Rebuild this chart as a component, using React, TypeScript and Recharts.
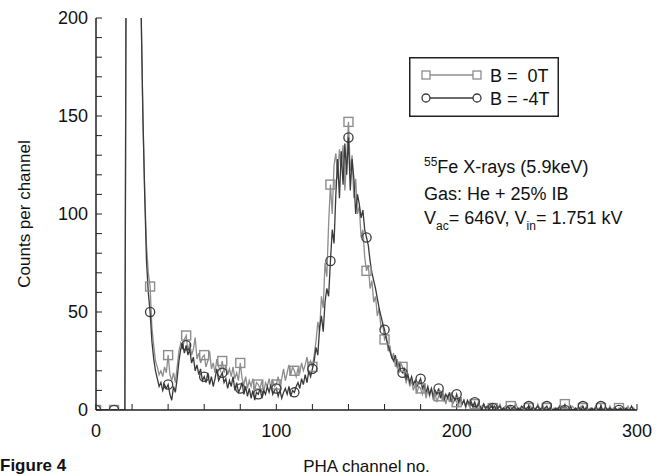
import React from "react";
import { LineChart, Line, XAxis, YAxis, Legend } from "recharts";

// PHA spectrum, counts per channel (channels 0..299)
const b0T = [
  0, 0, 0, 0, 0, 0, 0, 0, 0, 0,
  0, 0, 0, 0, 0, 0, 0, 330, 460, 520,
  500, 470, 420, 360, 290, 205, 150, 112, 84, 70,
  63, 42, 33, 25, 22, 18, 20, 17, 22, 19,
  28, 18, 15, 19, 14, 22, 30, 34, 31, 36,
  38, 30, 34, 28, 31, 37, 26, 29, 24, 27,
  28, 22, 25, 30, 21, 24, 19, 26, 22, 20,
  25, 19, 23, 18, 21, 17, 22, 16, 19, 15,
  24, 16, 13, 17, 11, 15, 12, 16, 10, 14,
  13, 11, 15, 9, 14, 12, 16, 11, 15, 12,
  13, 17, 12, 16, 21, 15, 19, 23, 18, 22,
  20, 17, 21, 19, 24, 20, 23, 27, 22, 25,
  22, 28, 35, 45, 40, 58, 52, 75, 68, 95,
  115, 100, 125, 131, 118, 133, 124, 135, 112, 128,
  147, 122, 130, 108, 118, 100, 104, 88, 92, 78,
  71, 74, 62, 66, 55, 58, 48, 52, 42, 44,
  36, 38, 30, 33, 26, 29, 22, 26, 19, 24,
  22, 18, 14, 17, 12, 15, 10, 13, 9, 12,
  11, 8, 12, 6, 10, 7, 11, 5, 9, 4,
  7, 10, 5, 8, 3, 7, 4, 9, 3, 6,
  4, 2, 6, 3, 5, 1, 4, 2, 5, 1,
  3, 1, 4, 0, 2, 3, 0, 2, 1, 3,
  1, 0, 2, 1, 3, 0, 1, 2, 0, 1,
  2, 0, 1, 3, 0, 1, 0, 2, 1, 0,
  1, 2, 0, 1, 0, 3, 1, 0, 2, 0,
  1, 0, 2, 0, 1, 0, 1, 0, 2, 1,
  3, 0, 1, 0, 2, 1, 0, 1, 0, 2,
  1, 0, 2, 0, 1, 0, 0, 2, 0, 1,
  1, 0, 1, 0, 0, 2, 0, 1, 0, 0,
  1, 0, 0, 1, 0, 2, 0, 0, 1, 0,
];

const bMinus4T = [
  0, 0, 0, 0, 0, 0, 0, 0, 0, 0,
  0, 0, 0, 0, 0, 0, 0, 330, 460, 520,
  500, 470, 420, 360, 290, 205, 150, 110, 76, 60,
  50, 35, 26, 20, 16, 12, 14, 10, 13, 11,
  13, 8, 5, 12, 9, 16, 25, 31, 34, 29,
  33, 28, 31, 24, 27, 20, 23, 18, 21, 15,
  17, 14, 19, 13, 17, 12, 16, 21, 15, 17,
  19, 14, 16, 11, 15, 12, 17, 10, 14, 9,
  11, 14, 8, 12, 7, 11, 6, 10, 5, 9,
  8, 11, 6, 10, 8, 12, 9, 13, 8, 10,
  11, 7, 10, 6, 9, 11, 8, 12, 7, 10,
  9, 12, 14, 11, 16, 13, 18, 14, 20, 17,
  21, 25, 32, 28, 42, 48, 40, 55, 62, 58,
  76, 92, 85, 110, 128, 108, 132, 115, 136, 120,
  139, 112, 128, 118, 100, 110, 105, 98, 102, 92,
  88, 84, 76, 70, 66, 62, 57, 52, 48, 44,
  41, 36, 33, 30, 27, 25, 28, 22, 24, 20,
  19, 21, 16, 18, 14, 17, 13, 15, 12, 14,
  16, 11, 13, 9, 12, 8, 11, 7, 10, 8,
  11, 6, 9, 5, 8, 6, 9, 4, 7, 5,
  8, 4, 6, 3, 5, 2, 5, 3, 4, 2,
  4, 1, 3, 2, 0, 3, 1, 2, 0, 2,
  1, 2, 0, 1, 2, 0, 1, 0, 2, 1,
  0, 1, 2, 0, 1, 0, 2, 1, 0, 1,
  2, 0, 1, 0, 1, 2, 0, 1, 0, 1,
  2, 0, 1, 0, 0, 1, 0, 2, 0, 1,
  0, 1, 0, 2, 0, 0, 1, 0, 1, 0,
  2, 0, 1, 0, 0, 1, 0, 1, 0, 0,
  2, 0, 0, 1, 0, 1, 0, 0, 1, 0,
  0, 1, 0, 0, 1, 0, 0, 2, 0, 0,
];

const xTicks = [0, 20, 40, 60, 80, 100, 120, 140, 160, 180, 200, 220, 240, 260, 280, 300];
const yTicks = [0, 10, 20, 30, 40, 50, 60, 70, 80, 90, 100, 110, 120, 130, 140, 150, 160, 170, 180, 190, 200];

const data = b0T.map((v, i) => ({ ch: i, b0: v, b4: bMinus4T[i] }));

const FONT = "'Liberation Sans', Arial, Helvetica, sans-serif";
const GRAY = "#8d8d8d";
const DARK = "#3a3a3a";
const AXIS = "#222";

const squareDot = (props: any) => {
  const { cx, cy, index, payload } = props;
  if (index % 10 !== 0 || payload.b0 > 200) return <g key={`sq${index}`} />;
  return (
    <rect key={`sq${index}`} x={cx - 4.5} y={cy - 4.5} width={9} height={9}
      fill="none" stroke={GRAY} strokeWidth={1.4} />
  );
};

const circleDot = (props: any) => {
  const { cx, cy, index, payload } = props;
  if (index % 10 !== 0 || payload.b4 > 200) return <g key={`ci${index}`} />;
  return <circle key={`ci${index}`} cx={cx} cy={cy} r={4.6} fill="none" stroke={DARK} strokeWidth={1.3} />;
};

const renderLegend = () => (
  <svg width={150} height={60} style={{ display: "block", fontFamily: FONT }}>
    <rect x={0.75} y={0.75} width={148.5} height={58.5} fill="#fff" stroke={AXIS} strokeWidth={1.5} />
    <line x1={17} y1={18} x2={68} y2={18} stroke={GRAY} strokeWidth={1.4} />
    <rect x={13} y={14} width={8} height={8} fill="#fff" stroke={GRAY} strokeWidth={1.3} />
    <rect x={64} y={14} width={8} height={8} fill="#fff" stroke={GRAY} strokeWidth={1.3} />
    <text x={81} y={24.5} fontSize={18} fill="#111">B ={"\u00a0\u00a0"}0T</text>
    <line x1={17} y1={41} x2={68} y2={41} stroke={DARK} strokeWidth={1.4} />
    <circle cx={17} cy={41} r={4} fill="#fff" stroke={DARK} strokeWidth={1.3} />
    <circle cx={68} cy={41} r={4} fill="#fff" stroke={DARK} strokeWidth={1.3} />
    <text x={81} y={47.5} fontSize={18} fill="#111">B = -4T</text>
  </svg>
);

const renderYLabel = () => (
  <text x={30} y={214} transform="rotate(-90 30 214)" textAnchor="middle"
    fontSize={17} fill="#111" style={{ fontFamily: FONT }}>
    Counts per channel
  </text>
);

const small = { fontSize: 12, position: "relative" as const };

export default function App() {
  return (
    <div style={{ position: "absolute", left: 0, top: 0, width: 658, height: 476, background: "#fff", fontFamily: FONT, overflow: "hidden" }}>
      <LineChart width={658} height={476} data={data} margin={{ top: 18, right: 21, bottom: 0, left: 0 }}>
        <XAxis dataKey="ch" type="number" domain={[0, 300]} ticks={xTicks} interval={0}
          allowDataOverflow height={66} tickSize={-6} tickMargin={20}
          tickFormatter={(v: number) => (v % 100 === 0 ? String(v) : "")}
          tick={{ fill: "#111", fontSize: 18, fontFamily: FONT }}
          axisLine={{ stroke: AXIS, strokeWidth: 1.5 }} tickLine={{ stroke: AXIS }}
          label={{ value: "PHA channel no.", position: "insideBottom", offset: 4, fill: "#111", fontSize: 17, fontFamily: FONT }} />
        <XAxis xAxisId="top" orientation="top" type="number" domain={[0, 300]} ticks={xTicks} interval={0}
          allowDataOverflow height={0} tickSize={-6} tick={false}
          axisLine={{ stroke: AXIS, strokeWidth: 1.5 }} tickLine={{ stroke: AXIS }} />
        <YAxis type="number" domain={[0, 200]} ticks={yTicks} interval={0}
          allowDataOverflow width={96} tickSize={-6} tickMargin={14}
          tickFormatter={(v: number) => (v % 50 === 0 ? String(v) : "")}
          tick={{ fill: "#111", fontSize: 18, fontFamily: FONT }}
          axisLine={{ stroke: AXIS, strokeWidth: 1.5 }} tickLine={{ stroke: AXIS }}
          label={{ content: renderYLabel }} />
        <YAxis yAxisId="right" orientation="right" type="number" domain={[0, 200]} ticks={yTicks} interval={0}
          allowDataOverflow width={0} tickSize={-6} tick={false}
          axisLine={{ stroke: AXIS, strokeWidth: 1.5 }} tickLine={{ stroke: AXIS }} />
        <Legend layout="vertical" align="center" verticalAlign="middle" content={renderLegend}
          wrapperStyle={{ left: 409, top: 57, width: 150, height: 60 }} />
        <Line type="linear" dataKey="b0" name="B = 0T" stroke={GRAY} strokeWidth={1.3}
          dot={squareDot} activeDot={false} isAnimationActive={false} />
        <Line type="linear" dataKey="b4" name="B = -4T" stroke={DARK} strokeWidth={1.3}
          dot={circleDot} activeDot={false} isAnimationActive={false} />
      </LineChart>
      <div style={{ position: "absolute", left: 424, top: 155, fontSize: 18, lineHeight: "24.5px", color: "#111", whiteSpace: "nowrap" }}>
        <div><span style={{ ...small, top: -7 }}>55</span>Fe X-rays (5.9keV)</div>
        <div>Gas: He + 25% IB</div>
        <div>V<span style={{ ...small, top: 6 }}>ac</span>= 646V, V<span style={{ ...small, top: 6 }}>in</span>= 1.751 kV</div>
      </div>
      <div style={{ position: "absolute", left: 0, top: 456, fontSize: 17, lineHeight: "19px", fontWeight: "bold", color: "#111" }}>
        Figure 4
      </div>
    </div>
  );
}
